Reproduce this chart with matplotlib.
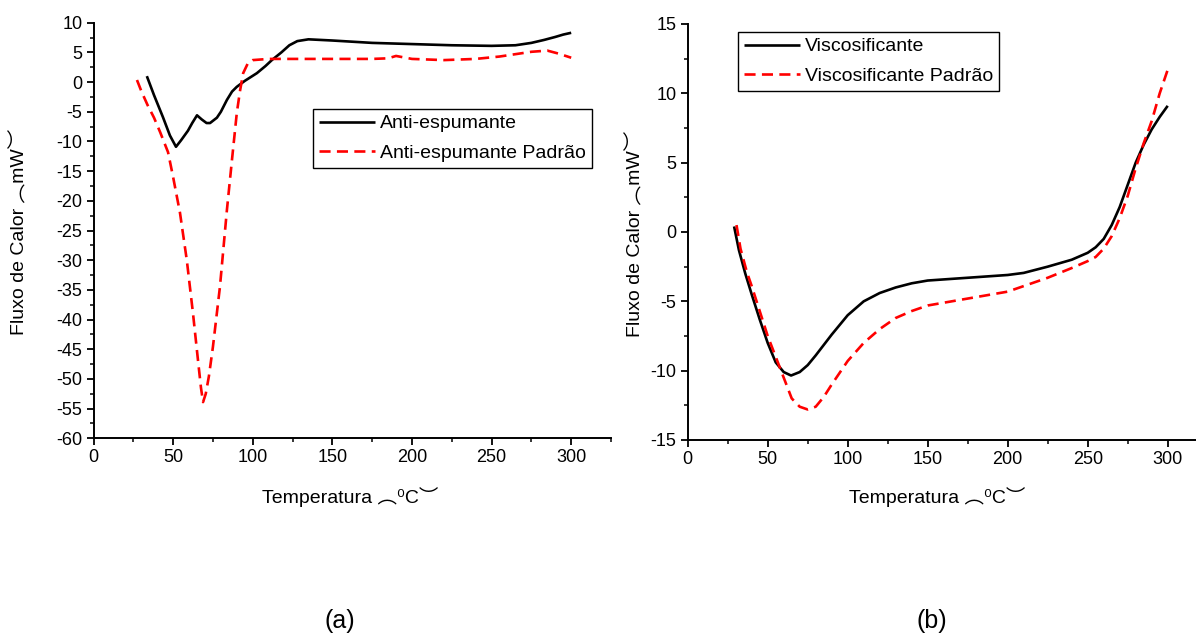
import matplotlib
matplotlib.use("Agg")
import matplotlib.pyplot as plt
from matplotlib.ticker import MultipleLocator

plt.rcParams['font.family'] = ['Liberation Sans', 'DejaVu Sans', 'Noto Sans CJK SC']
plt.rcParams['axes.unicode_minus'] = False

# (a) Anti-espumante
temp_anti = [33.5, 38, 43.6, 48, 51.8, 55, 59.3, 62, 65, 68, 71, 73.2, 77.5, 80, 83.8,
             87, 90, 95, 102.6, 108, 112, 118, 123, 128, 135, 150, 175, 200, 225,
             250, 265, 275, 283, 290, 295, 300]
flux_anti = [1.0, -2.2, -5.9, -9.0, -10.9, -9.8, -8.2, -6.9, -5.6, -6.3, -6.9, -6.9, -6.0, -5.0, -3.0,
             -1.6, -0.8, 0.2, 1.5, 2.7, 3.7, 5.0, 6.2, 6.9, 7.2, 7.0, 6.6, 6.4, 6.2,
             6.1, 6.2, 6.6, 7.1, 7.6, 8.0, 8.3]

temp_anti_pad = [27.3, 30, 34, 38, 41.8, 46.8, 50, 54.3, 58.6, 62.5, 65.6, 67.5, 68.8, 70.5,
                 72.5, 75, 79.4, 83.8, 87, 90, 92, 94, 97, 100, 110, 130, 150, 175, 185,
                 190, 200, 220, 240, 255, 265, 275, 285, 292, 300]
flux_anti_pad = [0.35, -1.5, -3.9, -6.0, -8.4, -11.8, -16.0, -22.0, -30.0, -39.0, -46.8, -51.5, -53.9, -52.5,
                 -49.5, -44.6, -34.5, -21.5, -13.0, -5.2, -1.5, 1.5, 3.2, 3.7, 3.9, 3.9, 3.9, 3.9, 4.0,
                 4.4, 3.9, 3.7, 3.9, 4.3, 4.7, 5.1, 5.3, 4.8, 4.1]

# (b) Viscosificante
temp_visc = [29, 32, 36, 40, 45, 50, 55, 60, 64.6, 70, 75, 80, 90, 100, 110, 120, 130,
             140, 150, 175, 200, 210, 225, 240, 250, 255, 260, 265, 270, 275, 280, 285,
             290, 295, 300]
flux_visc = [0.4, -1.3, -3.0, -4.5, -6.3, -8.0, -9.4, -10.1, -10.35, -10.1, -9.6, -8.9, -7.4, -6.0, -5.0, -4.4, -4.0,
             -3.7, -3.5, -3.3, -3.1, -2.95, -2.5, -2.0, -1.5, -1.1, -0.5, 0.5, 1.8, 3.4, 5.0, 6.3,
             7.4, 8.3, 9.1]

temp_visc_pad = [30.5, 33, 37, 40, 45, 50, 55, 60, 65, 70, 75, 80, 85, 90, 100, 110, 120,
                 130, 140, 150, 175, 200, 210, 225, 240, 250, 255, 260, 265, 270, 275,
                 280, 285, 290, 295, 300]
flux_visc_pad = [0.5, -1.2, -2.9, -3.9, -5.7, -7.5, -9.0, -10.5, -12.0, -12.6, -12.8, -12.6, -11.9, -11.0, -9.3, -8.0, -7.0,
                 -6.2, -5.7, -5.3, -4.8, -4.3, -3.9, -3.3, -2.6, -2.1, -1.8, -1.2, -0.3, 1.0, 2.6,
                 4.6, 6.4, 8.0, 10.0, 11.7]

W, H = 1196, 637
fig = plt.figure(figsize=(W / 100, H / 100), dpi=100)


def px_axes(left, top, right, bottom):
    return fig.add_axes([left / W, 1 - bottom / H, (right - left) / W, (bottom - top) / H])


def style(ax, ylim, ymajor, yminor):
    ax.set_xlim(0, 325)
    ax.set_ylim(*ylim)
    ax.xaxis.set_major_locator(MultipleLocator(50))
    ax.xaxis.set_minor_locator(MultipleLocator(25))
    ax.yaxis.set_major_locator(MultipleLocator(ymajor))
    ax.yaxis.set_minor_locator(MultipleLocator(yminor))
    for s in ('top', 'right'):
        ax.spines[s].set_visible(False)
    for s in ('left', 'bottom'):
        ax.spines[s].set_linewidth(1.4)
        ax.spines[s].set_clip_on(False)
    ax.tick_params(which='major', direction='out', length=5, width=1.3, labelsize=13, pad=3)
    ax.tick_params(which='minor', direction='out', length=3, width=1.1)


solid = dict(color='black', lw=1.9, solid_capstyle='butt')
dashed = dict(color='#ff0000', lw=1.9, linestyle=(0, (4.2, 2.4)))
legend_kw = dict(loc='upper left', frameon=True, fancybox=False, framealpha=1, edgecolor='black',
                 fontsize=14, handlelength=2.9, handletextpad=0.25, borderpad=0.3,
                 labelspacing=0.62, borderaxespad=0)

ax1 = px_axes(93.5, 22.7, 611, 438.3)
ax1.plot(temp_anti, flux_anti, label='Anti-espumante', **solid)
ax1.plot(temp_anti_pad, flux_anti_pad, label='Anti-espumante Padrão', **dashed)
style(ax1, (-60, 10), 5, 2.5)
leg1 = ax1.legend(bbox_to_anchor=((313 - 93.5) / (611 - 93.5), 1 - (109 - 22.7) / (438.3 - 22.7)), **legend_kw)
leg1.get_frame().set_linewidth(1.0)

ax2 = px_axes(687.7, 24, 1207.7, 440)
ax2.plot(temp_visc, flux_visc, label='Viscosificante', **solid)
ax2.plot(temp_visc_pad, flux_visc_pad, label='Viscosificante Padrão', **dashed)
style(ax2, (-15, 15), 5, 2.5)
leg2 = ax2.legend(bbox_to_anchor=((738 - 687.7) / 520, 1 - (32 - 24) / 416), **legend_kw)
leg2.get_frame().set_linewidth(1.0)

xlabel = 'Temperatura \ufe35\u2070C\ufe36'
ylabel = 'Fluxo de Calor \ufe35mW\ufe36'
fig.text(350 / W, 1 - 497 / H, xlabel, ha='center', va='center', fontsize=14)
fig.text(937 / W, 1 - 497 / H, xlabel, ha='center', va='center', fontsize=14)
fig.text(19 / W, 1 - 232 / H, ylabel, ha='center', va='center', rotation=90, fontsize=14)
fig.text(635 / W, 1 - 234 / H, ylabel, ha='center', va='center', rotation=90, fontsize=14)

fig.text(340 / W, 1 - 621 / H, '(a)', ha='center', va='center', fontsize=18)
fig.text(932 / W, 1 - 621 / H, '(b)', ha='center', va='center', fontsize=18)

fig.savefig('out.png', dpi=100)
